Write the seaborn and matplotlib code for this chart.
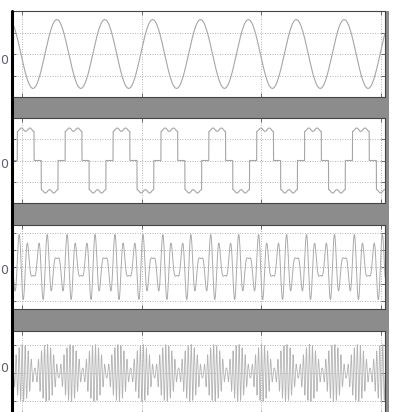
import numpy as np
import pandas as pd
import matplotlib
matplotlib.use("Agg")
import matplotlib.pyplot as plt
from matplotlib.patches import Rectangle
from matplotlib.lines import Line2D
import seaborn as sns

# ---- signal description -------------------------------------------------
F0 = 2.5                      # fundamental frequency shared by all traces
T_RANGE = (-0.083, 3.033)     # visible time window
GRID_T = [0, 1, 2, 3]         # vertical grid positions

# trace 1: pure sine
SINE_AMP = 1.6
SINE_PEAK_T = -0.108

# trace 2: three-level quasi-square wave with rippled plateaus
SQ_LEVEL = 1.45
SQ_RIPPLE = 0.08
SQ_RISE_T = -0.039
SQ_DUTY = [0.35, 0.15, 0.35, 0.15]   # high, zero, low, zero (fractions of a period)

# trace 3: two harmonics beating against each other
TONE3_HARM = [5, 7]
TONE3_AMP = [1.25, 0.75]
TONE3_T0 = -0.006

# trace 4: two higher harmonics beating
TONE4_HARM = [15, 17]
TONE4_AMP = [0.6, 0.42]
TONE4_T0 = 0.008

Y_LIMS = [(-2, 2), (-2, 2), (-2.5, 2.5), (-1.5, 1.5)]
Y_TICKS = [[-1, 0, 1], [-1, 0, 1], [-2, -1, 0, 1, 2], [-1, 0, 1]]
ZERO_LABEL = "0"

# ---- build traces ---------------------------------------------------------
t = np.linspace(T_RANGE[0], T_RANGE[1], 12000)

y1 = SINE_AMP * np.cos(2 * np.pi * F0 * (t - SINE_PEAK_T))

p = ((t - SQ_RISE_T) * F0) % 1.0
b = np.cumsum(SQ_DUTY)
y2 = np.zeros_like(t)
hi = p < b[0]
lo = (p >= b[1]) & (p < b[2])
u_hi = p[hi] / SQ_DUTY[0]
u_lo = (p[lo] - b[1]) / SQ_DUTY[2]
y2[hi] = SQ_LEVEL - SQ_RIPPLE * np.cos(4 * np.pi * u_hi)
y2[lo] = -(SQ_LEVEL - SQ_RIPPLE * np.cos(4 * np.pi * u_lo))


def tones(harm, amp, t0):
    out = np.zeros_like(t)
    for h, a in zip(harm, amp):
        out -= a * np.sin(2 * np.pi * F0 * h * (t - t0))
    return out


y3 = tones(TONE3_HARM, TONE3_AMP, TONE3_T0)
y4 = tones(TONE4_HARM, TONE4_AMP, TONE4_T0)

frames = [pd.DataFrame({"t": t, "v": y}) for y in (y1, y2, y3, y4)]
line_styles = [("#a6a6a6", 0.8), ("#a6a6a6", 0.8), ("#aaaaaa", 0.7), ("#b4b4b4", 0.6)]

# ---- figure ---------------------------------------------------------------
sns.set_theme(style="white")
W, H = 399, 412
fig = plt.figure(figsize=(W / 100, H / 100), dpi=100, facecolor="white")


def fx(px):
    return px / W


def fy(py):
    return 1 - py / H


# grey scope background behind the panels
fig.patches.append(Rectangle((fx(12), 0), fx(389) - fx(12), fy(11),
                             transform=fig.transFigure, facecolor="#8c8c8c",
                             edgecolor="none", zorder=-5))

tops = [11, 118, 225, 331]
heights = [86, 85, 84, 84]
label_y = [60, 164, 271, 368]

for i, (df, top, h) in enumerate(zip(frames, tops, heights)):
    ax = fig.add_axes([fx(12), fy(top + h), fx(385) - fx(12), h / H])
    ax.set_zorder(2)
    ax.set_facecolor("white")
    col, lw = line_styles[i]
    sns.lineplot(data=df, x="t", y="v", ax=ax, color=col,
                 linewidth=lw, estimator=None, sort=False)
    ax.set_xlim(*T_RANGE)
    ax.set_ylim(*Y_LIMS[i])
    ax.set_xticks(GRID_T)
    ax.set_yticks(Y_TICKS[i])
    ax.set_xlabel("")
    ax.set_ylabel("")
    ax.grid(True, linestyle=(0, (1, 2)), color="#9a9a9a", linewidth=0.6)
    ax.tick_params(direction="in", length=3, width=0.6, color="#555555",
                   top=True, right=True, left=True, bottom=True,
                   labelleft=False, labelbottom=False)
    for side, sp in ax.spines.items():
        sp.set_color("#444444")
        sp.set_linewidth(0.8)
    fig.text(fx(0.5), fy(label_y[i]), ZERO_LABEL, ha="left", va="center",
             fontsize=9, color="#5a6070")

# heavy left border running the full height
fig.add_artist(Line2D([fx(12), fx(12)], [0, fy(11)], transform=fig.transFigure,
                      color="black", linewidth=2.2, zorder=10))

fig.savefig("out.png", dpi=100, facecolor="white")
